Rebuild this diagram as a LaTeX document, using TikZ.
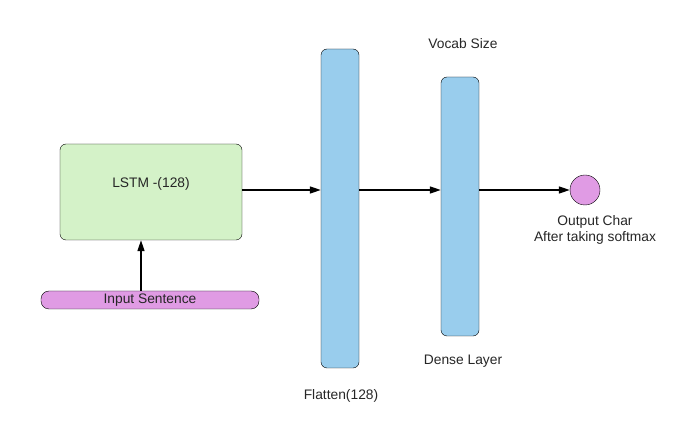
\documentclass[tikz,border=0pt]{standalone}
\usepackage{fontspec}
\setmainfont{Liberation Sans}
\usetikzlibrary{arrows.meta}
\definecolor{lstmgreen}{RGB}{212,242,200}
\definecolor{layerblue}{RGB}{153,205,237}
\definecolor{charpink}{RGB}{224,155,228}
\tikzset{
    layer/.style={draw, thin, rounded corners=6pt, fill=layerblue, minimum width=38pt},
    flow/.style={-{Triangle[length=11pt,width=7pt]}, line width=1.3pt},
    caption/.style={font=\fontsize{13.8}{16}\selectfont, text=black!85}
}
\begin{document}
\begin{tikzpicture}[x=1pt, y=-1pt]
    \useasboundingbox (0, 0) rectangle (691, 438);
    % Draw LSTM block and input bar
    \node[draw, thin, rounded corners=6pt, fill=lstmgreen, minimum width=182pt, minimum height=96pt] (lstm) at (151, 192) {};
    \node[caption] (lstmtext) at (151, 184) {LSTM -(128)};
    \node[draw, thin, rounded corners=8pt, fill=charpink, minimum width=218pt, minimum height=18pt, inner sep=0pt, caption] (input) at (150, 300) {Input Sentence};
    % Draw the two dense layers
    \node[layer, minimum height=319pt] (flatten) at (340, 208.5) {};
    \node[layer, minimum height=259pt] (dense) at (460, 206.5) {};
    % Draw output circle
    \node[draw, thin, circle, fill=charpink, minimum size=30pt] (out) at (585, 190) {};
    % Connect blocks
    \draw[flow] (input.north -| 141, 0) -- (lstm.south -| 141, 0);
    \draw[flow] (lstm.east |- 0, 190) -- (flatten.west |- 0, 190);
    \draw[flow] (flatten.east |- 0, 190) -- (dense.west |- 0, 190);
    \draw[flow] (dense.east |- 0, 190) -- (out.west);
    % Label layers
    \node[caption] (vocab) at (463, 44) {Vocab Size};
    \node[caption] (denselabel) at (463, 361) {Dense Layer};
    \node[caption] (flattenlabel) at (341, 396) {Flatten(128)};
    \node[caption, align=center] (outlabel) at (595, 230) {Output Char\\After taking softmax};
\end{tikzpicture}
\end{document}
